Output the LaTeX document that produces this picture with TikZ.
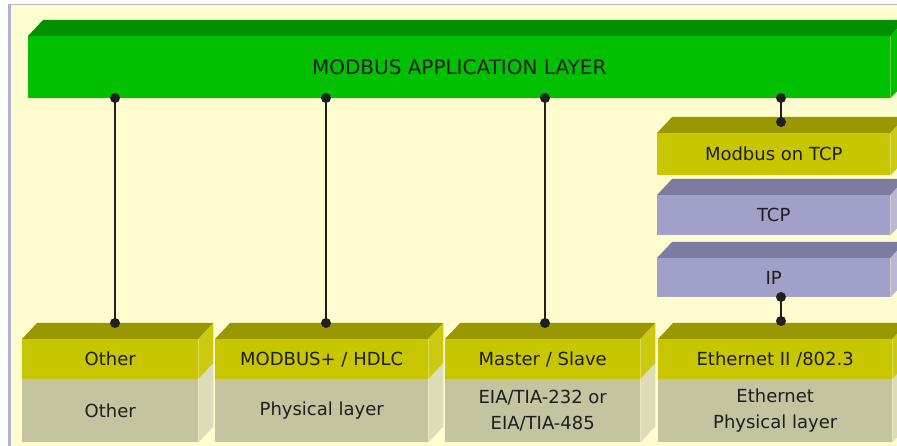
\documentclass[tikz,border=0pt]{standalone}
\usepackage{fontspec}
\setmainfont{DejaVu Sans}
\usetikzlibrary{calc}
\definecolor{cream}{HTML}{FFFCD0}
\definecolor{topborder}{HTML}{B8B8C0}
\definecolor{leftborder}{HTML}{B0B0D8}
\definecolor{grnF}{HTML}{00C000}
\definecolor{grnT}{HTML}{009000}
\definecolor{yelF}{HTML}{C8C600}
\definecolor{yelT}{HTML}{9A9800}
\definecolor{yelR}{HTML}{CCCA10}
\definecolor{gryF}{HTML}{C4C4A0}
\definecolor{gryR}{HTML}{DCDCB8}
\definecolor{lavF}{HTML}{A0A0C8}
\definecolor{lavT}{HTML}{7C7CA0}
\definecolor{lavR}{HTML}{B8B8D4}
\definecolor{txt}{HTML}{1E1E1E}
\definecolor{linec}{HTML}{202020}
\tikzset{
  face/.style={draw=none, inner sep=0pt, anchor=north west, text=txt, align=center,
    font=\fontsize{18}{26}\selectfont},
  link/.style={line width=2pt, draw=linec},
  dotc/.style={fill=linec}
}
\newcommand\topface[2]{\fill[#2] (#1.north west) -- ++(15,-16) -- ($(#1.north east)+(15,-16)$) -- (#1.north east) -- cycle;}
\newcommand\sideface[2]{\fill[#2] (#1.north east) -- ++(15,-16) -- ($(#1.south east)+(15,-16)$) -- (#1.south east) -- cycle;}
\begin{document}
\begin{tikzpicture}[x=1pt,y=-1pt]
\useasboundingbox (0,0) rectangle (897,446);
\begin{scope}
\clip (0,0) rectangle (897,446);
\fill[white] (0,0) rectangle (897,446);
\fill[cream] (9,5) rectangle (897,446);
\draw[topborder, line width=1.5pt] (8,4.5) -- (897,4.5);
\draw[leftborder, line width=3pt] (9.5,4) -- (9.5,446);

% application layer
\node[face, fill=grnF, minimum width=862, minimum height=62,
  font=\fontsize{20}{24}\selectfont] (app) at (28,36) {MODBUS APPLICATION LAYER};
\topface{app}{grnT}\sideface{app}{grnF}

% TCP/IP stack
\node[face, fill=yelF, minimum width=233, minimum height=42] (mtcp) at (657,133) {Modbus on TCP};
\topface{mtcp}{yelT}\sideface{mtcp}{yelR}
\node[face, fill=lavF, minimum width=233, minimum height=40] (tcp) at (657,195) {TCP};
\topface{tcp}{lavT}\sideface{tcp}{lavR}
\node[face, fill=lavF, minimum width=233, minimum height=39] (ip) at (657,258) {IP};
\topface{ip}{lavT}\sideface{ip}{lavR}

% bottom boxes
\node[face, fill=yelF, minimum width=176, minimum height=40] (p1) at (22,339) {Other};
\node[face, fill=gryF, minimum width=176, minimum height=63] (q1) at (22,379) {Other};
\topface{p1}{yelT}\sideface{p1}{yelR}\sideface{q1}{gryR}

\node[face, fill=yelF, minimum width=213, minimum height=40] (p2) at (215,339) {MODBUS+ / HDLC};
\node[face, fill=gryF, minimum width=213, minimum height=63] (q2) at (215,379) {Physical layer};
\topface{p2}{yelT}\sideface{p2}{yelR}\sideface{q2}{gryR}

\node[face, fill=yelF, minimum width=195, minimum height=40] (p3) at (445,339) {Master / Slave};
\node[face, fill=gryF, minimum width=195, minimum height=63] (q3) at (445,379) {EIA/TIA-232 or\\EIA/TIA-485};
\topface{p3}{yelT}\sideface{p3}{yelR}\sideface{q3}{gryR}

\node[face, fill=yelF, minimum width=234, minimum height=40] (p4) at (658,339) {Ethernet II /802.3};
\node[face, fill=gryF, minimum width=234, minimum height=63] (q4) at (658,379) {Ethernet\\Physical layer};
\topface{p4}{yelT}\sideface{p4}{yelR}\sideface{q4}{gryR}

% connectors
\coordinate (a1) at (115,98);  \coordinate (b1) at (115,323);
\coordinate (a2) at (326,98);  \coordinate (b2) at (326,323);
\coordinate (a3) at (545,98);  \coordinate (b3) at (545,323);
\coordinate (a4) at (781,98);  \coordinate (b4) at (781,122);
\coordinate (a5) at (781,297); \coordinate (b5) at (781,321);
\foreach \i in {1,...,5}{
  \draw[link] (a\i) -- (b\i);
  \fill[dotc] (a\i) circle (5);
  \fill[dotc] (b\i) circle (5);
}
\end{scope}
\end{tikzpicture}
\end{document}
